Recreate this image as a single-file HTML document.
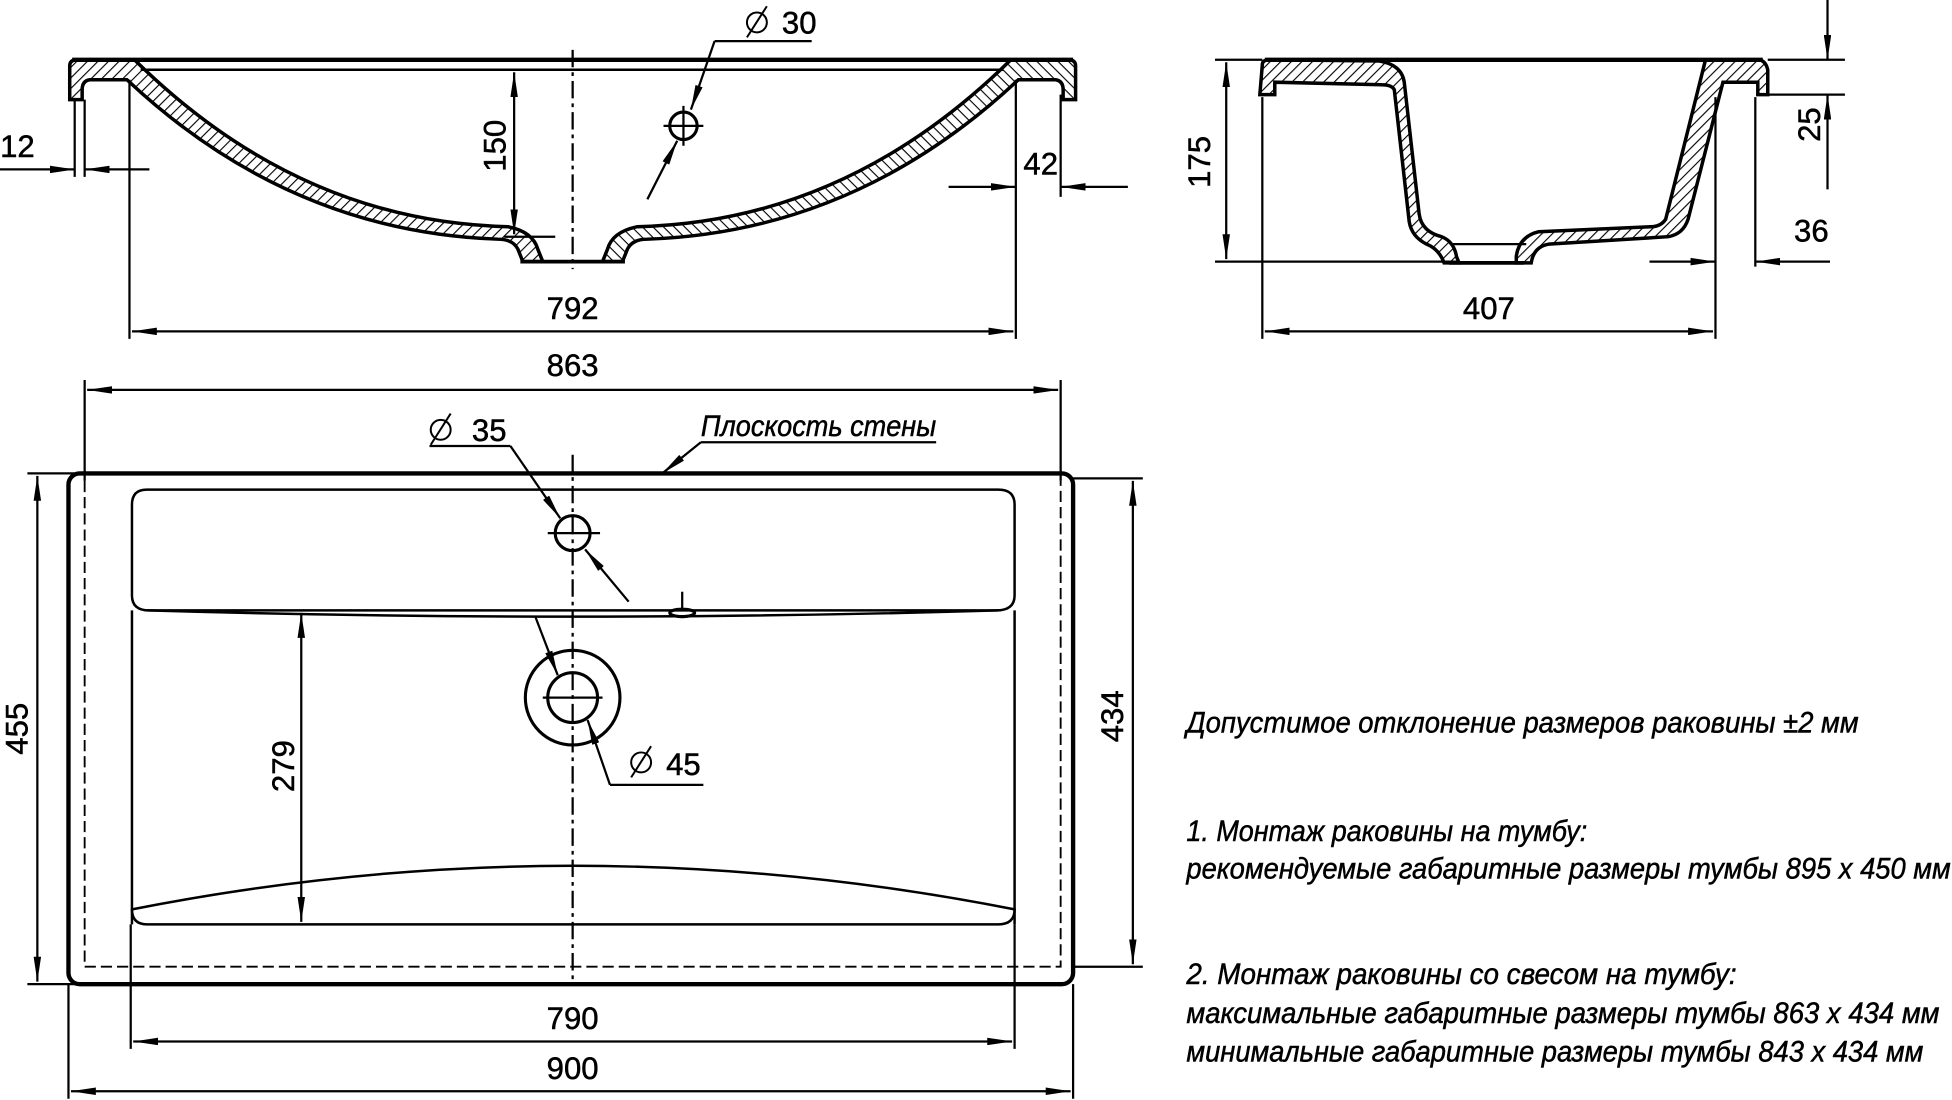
<!DOCTYPE html>
<html><head><meta charset="utf-8"><style>
html,body{margin:0;padding:0;background:#fff;}
svg{display:block;}
text{font-family:"Liberation Sans Narrow","Liberation Sans",sans-serif;fill:#000;stroke:#000;stroke-width:0.4;}
</style></head><body>
<svg width="1952" height="1100" viewBox="0 0 1568 883" preserveAspectRatio="none" xmlns="http://www.w3.org/2000/svg">
<defs>
<pattern id="h" width="6" height="6" patternUnits="userSpaceOnUse" patternTransform="rotate(45)">
<rect width="6" height="6" fill="#fff"/><line x1="0" y1="0" x2="0" y2="6" stroke="#000" stroke-width="1.8"/></pattern>
<marker id="a" viewBox="0 0 20 6" refX="20" refY="3" markerWidth="20" markerHeight="6" markerUnits="userSpaceOnUse" orient="auto-start-reverse"><path d="M0,0 L20,3 L0,6 Z" fill="#000"/></marker>
</defs>
<g fill="none" stroke="#000" stroke-width="1.8">
<g stroke-width="2.8" fill="url(#h)">
<path d="M56,53 Q56,48 62,48 L108,48 Q240,178 408,182 Q428,186 432,200 L436,210 L420,210 L416,200 Q412,192 400,192 Q232,186 102,64 L72,64 Q66,65 66,72 L66,80 L56,80 Z"/>
</g>
<g transform="translate(920,0) scale(-1,1)" stroke-width="2.8" fill="url(#h)">
<path d="M56,53 Q56,48 62,48 L108,48 Q240,178 408,182 Q428,186 432,200 L436,210 L420,210 L416,200 Q412,192 400,192 Q232,186 102,64 L72,64 Q66,65 66,72 L66,80 L56,80 Z"/>
</g>
<line x1="58" y1="48" x2="862" y2="48" stroke-width="3.5"/>
<line x1="113" y1="56" x2="806" y2="56" stroke-width="2"/>
<line x1="418" y1="210" x2="502" y2="210" stroke-width="3"/>
<line x1="460" y1="40" x2="460" y2="216" stroke-dasharray="14,4,3,4"/>
<line x1="104" y1="64" x2="104" y2="272"/><line x1="816" y1="64" x2="816" y2="272"/>
<line x1="106" y1="266" x2="814" y2="266" marker-start="url(#a)" marker-end="url(#a)"/>
<line x1="60" y1="80" x2="60" y2="142"/><line x1="68" y1="80" x2="68" y2="142"/>
<line x1="0" y1="136" x2="60" y2="136" marker-end="url(#a)"/><line x1="120" y1="136" x2="68" y2="136" marker-end="url(#a)"/>
<line x1="852" y1="76" x2="852" y2="158"/>
<line x1="762" y1="150" x2="816" y2="150" marker-end="url(#a)"/><line x1="906" y1="150" x2="852" y2="150" marker-end="url(#a)"/>
<line x1="413" y1="58" x2="413" y2="188" marker-start="url(#a)" marker-end="url(#a)"/>
<line x1="405" y1="190" x2="446" y2="190"/>
<circle cx="549" cy="101" r="11" stroke-width="2.5"/>
<line x1="533" y1="101" x2="565" y2="101"/><line x1="549" y1="85" x2="549" y2="117"/>
<line x1="520" y1="160" x2="544" y2="113" marker-end="url(#a)"/><line x1="574" y1="33" x2="555" y2="88" marker-end="url(#a)"/>
<line x1="574" y1="33" x2="652" y2="33"/>
<g stroke-width="2.8" fill="url(#h)">
<path d="M1014,52 Q1014,48 1020,48 L1108,49 Q1126,52 1128,66 L1140,172 Q1142,186 1158,190 Q1168,194 1170,206 L1172,211 L1160,211 Q1156,200 1146,196 Q1134,190 1132,178 L1120,72 Q1118,68 1110,68 L1024,66 L1024,76 L1012,76 Z"/>
<path d="M1218,211 L1230,211 Q1232,198 1244,196 L1340,190 Q1352,188 1356,176 L1384,66 L1412,66 L1412,76 L1420,76 L1420,56 Q1418,48 1412,48 L1370,48 L1338,176 Q1334,182 1326,182 L1236,186 Q1220,190 1218,206 Z"/>
</g>
<line x1="1016" y1="48" x2="1416" y2="48" stroke-width="3.5"/>
<line x1="1164" y1="211" x2="1224" y2="211" stroke-width="3"/>
<line x1="1166" y1="196" x2="1226" y2="196"/>
<line x1="976" y1="48" x2="1014" y2="48"/><line x1="976" y1="210" x2="1170" y2="210"/>
<line x1="985" y1="50" x2="985" y2="208" marker-start="url(#a)" marker-end="url(#a)"/>
<line x1="1014" y1="78" x2="1014" y2="272"/><line x1="1378" y1="78" x2="1378" y2="272"/>
<line x1="1016" y1="266" x2="1376" y2="266" marker-start="url(#a)" marker-end="url(#a)"/>
<line x1="1420" y1="48" x2="1482" y2="48"/><line x1="1420" y1="76" x2="1482" y2="76"/>
<line x1="1468" y1="0" x2="1468" y2="48" marker-end="url(#a)"/><line x1="1468" y1="152" x2="1468" y2="76" marker-end="url(#a)"/>
<line x1="1410" y1="78" x2="1410" y2="214"/>
<line x1="1325" y1="210" x2="1378" y2="210" marker-end="url(#a)"/><line x1="1470" y1="210" x2="1410" y2="210" marker-end="url(#a)"/>
<rect x="55" y="380" width="807" height="410" rx="9" stroke-width="3.5"/>
<path d="M68,386 L68,776 L852,776 L852,386" stroke-dasharray="9,4" stroke-width="1.5"/>
<path d="M118,393 L802,393 Q815,393 815,405 L815,478 Q815,490 800,490 L120,490 Q106,490 106,478 L106,405 Q106,393 118,393 Z" stroke-width="2"/>
<path d="M118,490 Q460,500 802,490" stroke-width="2"/>
<path d="M106,730 Q106,742 118,742 L802,742 Q815,742 815,730 Q460,660 106,730 Z" stroke-width="2"/>
<path d="M106,490 L106,742 M815,490 L815,742" stroke-width="2"/>
<line x1="460" y1="365" x2="460" y2="790" stroke-dasharray="14,4,3,4"/>
<circle cx="460" cy="428" r="14" stroke-width="2.5"/>
<line x1="440" y1="428" x2="482" y2="428"/>
<line x1="345" y1="358" x2="410" y2="358"/>
<line x1="410" y1="358" x2="450" y2="416" marker-end="url(#a)"/>
<line x1="505" y1="483" x2="470" y2="441" marker-end="url(#a)"/>
<ellipse cx="548" cy="492" rx="10" ry="3" stroke-width="2.5"/>
<line x1="548" y1="475" x2="548" y2="490"/>
<circle cx="460" cy="560" r="38" stroke-width="2.5"/>
<circle cx="460" cy="560" r="20" stroke-width="2.5"/>
<line x1="436" y1="560" x2="484" y2="560"/>
<line x1="430" y1="495" x2="448" y2="542" marker-end="url(#a)"/>
<line x1="490" y1="630" x2="472" y2="578" marker-end="url(#a)"/>
<line x1="490" y1="630" x2="565" y2="630"/>
<line x1="563" y1="355" x2="752" y2="355"/>
<line x1="563" y1="355" x2="532" y2="380" marker-end="url(#a)"/>
<line x1="68" y1="305" x2="68" y2="386"/><line x1="852" y1="305" x2="852" y2="386"/>
<line x1="70" y1="313" x2="850" y2="313" marker-start="url(#a)" marker-end="url(#a)"/>
<line x1="22" y1="380" x2="60" y2="380"/><line x1="22" y1="790" x2="60" y2="790"/>
<line x1="30" y1="382" x2="30" y2="788" marker-start="url(#a)" marker-end="url(#a)"/>
<line x1="862" y1="384" x2="918" y2="384"/><line x1="862" y1="776" x2="918" y2="776"/>
<line x1="910" y1="386" x2="910" y2="774" marker-start="url(#a)" marker-end="url(#a)"/>
<line x1="242" y1="492" x2="242" y2="740" marker-start="url(#a)" marker-end="url(#a)"/>
<line x1="105" y1="742" x2="105" y2="842"/><line x1="815" y1="742" x2="815" y2="842"/>
<line x1="107" y1="836" x2="813" y2="836" marker-start="url(#a)" marker-end="url(#a)"/>
<line x1="55" y1="790" x2="55" y2="882"/><line x1="862" y1="790" x2="862" y2="882"/>
<line x1="57" y1="876" x2="860" y2="876" marker-start="url(#a)" marker-end="url(#a)"/>
</g>
<g font-size="25" text-anchor="middle">
<text x="460" y="256">792</text>
<text x="14" y="126">12</text>
<text x="836" y="140">42</text>
<text transform="translate(406,117) rotate(-90)">150</text>
<text x="642" y="27">30</text>
<text transform="translate(972,130) rotate(-90)">175</text>
<text x="1196" y="256">407</text>
<text transform="translate(1462,100) rotate(-90)">25</text>
<text x="1455" y="194">36</text>
<text x="460" y="302">863</text>
<text x="393" y="354">35</text>
<text x="549" y="622">45</text>
<text transform="translate(22,585) rotate(-90)">455</text>
<text transform="translate(902,575) rotate(-90)">434</text>
<text transform="translate(236,615) rotate(-90)">279</text>
<text x="460" y="826">790</text>
<text x="460" y="866">900</text>
</g>
<g fill="none" stroke="#000" stroke-width="1.6">
<circle cx="608" cy="18" r="8"/><line x1="600" y1="30" x2="616" y2="5"/>
<circle cx="354" cy="345" r="8"/><line x1="346" y1="357" x2="362" y2="332"/>
<circle cx="515" cy="612" r="8"/><line x1="507" y1="624" x2="523" y2="599"/>
</g>
<text x="563" y="350" font-size="24" textLength="189" lengthAdjust="spacingAndGlyphs" font-style="italic">Плоскость стены</text>
<g font-size="24" font-style="italic">
<text x="953" y="588" textLength="540" lengthAdjust="spacingAndGlyphs">Допустимое отклонение размеров раковины ±2 мм</text>
<text x="953" y="675" textLength="322" lengthAdjust="spacingAndGlyphs">1. Монтаж раковины на тумбу:</text>
<text x="953" y="705" textLength="614" lengthAdjust="spacingAndGlyphs">рекомендуемые габаритные размеры тумбы 895 x 450 мм</text>
<text x="953" y="790" textLength="442" lengthAdjust="spacingAndGlyphs">2. Монтаж раковины со свесом на тумбу:</text>
<text x="953" y="821" textLength="605" lengthAdjust="spacingAndGlyphs">максимальные габаритные размеры тумбы 863 x 434 мм</text>
<text x="953" y="852" textLength="592" lengthAdjust="spacingAndGlyphs">минимальные габаритные размеры тумбы 843 x 434 мм</text>
</g>
</svg>
</body></html>
